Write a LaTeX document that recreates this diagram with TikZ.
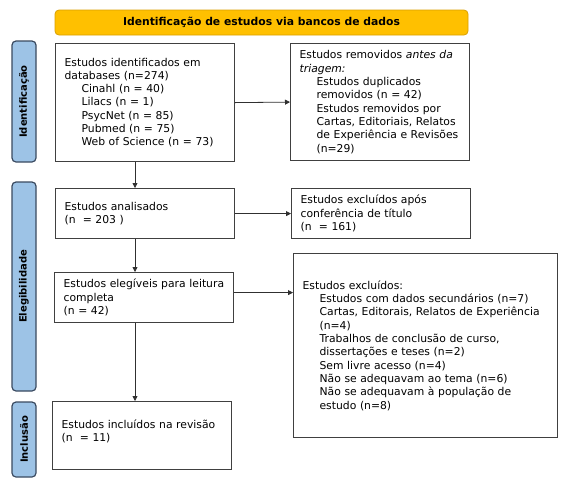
\documentclass[tikz,border=0pt]{standalone}
\usepackage{fontspec}
\setmainfont{DejaVu Sans}
\usetikzlibrary{arrows.meta,calc}
\definecolor{bannerfill}{HTML}{FFC000}
\definecolor{bannerdraw}{HTML}{D9A000}
\definecolor{sidefill}{HTML}{9DC3E6}
\definecolor{sidedraw}{HTML}{3A4A60}
\definecolor{boxdraw}{HTML}{404040}
\definecolor{arrowcol}{HTML}{303030}
\newcommand{\ind}{\hspace*{17pt}}
\begin{document}
\begin{tikzpicture}[x=1pt,y=-1pt,
  box/.style={draw=boxdraw, line width=1.2pt, fill=white, anchor=north west,
    inner xsep=9pt, inner ysep=0pt, align=left,
    font=\fontsize{10.8}{13.3}\selectfont},
  side/.style={draw=sidedraw, line width=1.2pt, fill=sidefill, rounded corners=4pt,
    rotate=90, minimum height=24pt, inner sep=0pt,
    font=\fontsize{10}{11}\selectfont\bfseries},
  banner/.style={draw=bannerdraw, line width=0.8pt, fill=bannerfill, rounded corners=4pt,
    minimum width=413pt, minimum height=25pt, inner sep=0pt,
    font=\fontsize{10.8}{12}\selectfont\bfseries},
  arr/.style={draw=arrowcol, line width=0.8pt, -{Triangle[length=5pt,width=5pt]}}]
\useasboundingbox (0,0) rectangle (567,491);

\node[banner] (ban) at (261.5,22.5) {Identificação de estudos via bancos de dados};

\node[side, minimum width=121pt] (s1) at (24,101.5) {Identificação};
\node[side, minimum width=209pt] (s2) at (24,286.5) {Elegibilidade};
\node[side, minimum width=75pt] (s3) at (24,439.5) {Inclusão};

\node[box, text width=161pt, minimum height=118pt] (b1) at (55,43)
 {Estudos identificados em\\databases (n=274)\\\ind Cinahl (n = 40)\\\ind Lilacs (n = 1)\\\ind PsycNet (n = 85)\\\ind Pubmed (n = 75)\\\ind Web of Science (n = 73)};

\node[box, text width=161pt, minimum height=117pt] (b2) at (290,43)
 {Estudos removidos \textit{antes da}\\\textit{triagem:}\\\ind Estudos duplicados\\\ind removidos (n = 42)\\\ind Estudos removidos por\\\ind Cartas, Editoriais, Relatos\\\ind de Experiência e Revisões\\\ind (n=29)};

\node[box, text width=161pt, minimum height=50pt] (b3) at (55,188)
 {Estudos analisados\\(n \ = 203 )};

\node[box, text width=161pt, minimum height=50pt] (b4) at (291,188)
 {Estudos excluídos após\\conferência de título\\(n \ = 161)};

\node[box, text width=161pt, minimum height=50pt] (b5) at (54,272)
 {Estudos elegíveis para leitura\\completa\\(n = 42)};

\node[box, text width=246pt, minimum height=184pt] (b6) at (293,253)
 {Estudos excluídos:\\\ind Estudos com dados secundários (n=7)\\\ind Cartas, Editorais, Relatos de Experiência\\\ind (n=4)\\\ind Trabalhos de conclusão de curso,\\\ind dissertações e teses (n=2)\\\ind Sem livre acesso (n=4)\\\ind Não se adequavam ao tema (n=6)\\\ind Não se adequavam à população de\\\ind estudo (n=8)};

\node[box, text width=161pt, minimum height=68pt] (b7) at (52,401)
 {Estudos incluídos na revisão\\(n \ = 11)\\[-3pt]\mbox{}};

\coordinate (col) at (135,0);
\draw[arr] (b1.east) -- (b2.west);
\draw[arr] (b3.east) -- (b4.west);
\draw[arr] ([yshift=5pt]b5.east) -- ([yshift=5pt]b5.east -| b6.west);
\draw[arr] (b1.south -| col) -- (b3.north -| col);
\draw[arr] (b3.south -| col) -- (b5.north -| col);
\draw[arr] (b5.south -| col) -- (b7.north -| col);
\end{tikzpicture}
\end{document}
